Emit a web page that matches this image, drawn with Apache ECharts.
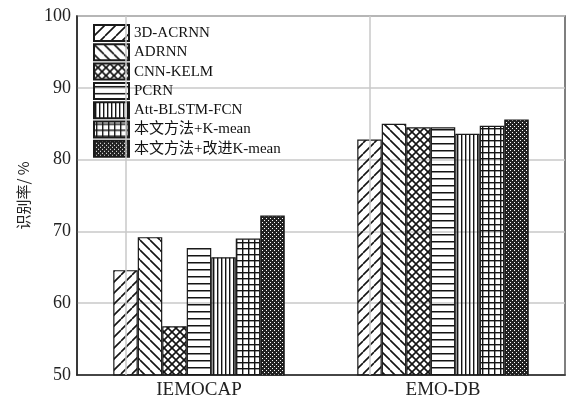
<!DOCTYPE html>
<html>
<head>
<meta charset="utf-8">
<script src="https://cdn.jsdelivr.net/npm/echarts@6/dist/echarts.min.js"></script>
<style>
  html, body { margin: 0; padding: 0; background: #fff; }
  #chart { width: 576px; height: 402px; }
</style>
</head>
<body>
<div id="chart"></div>
<script>
// Datasets and methods
const categories = ['IEMOCAP', 'EMO-DB'];
const methods = ['3D-ACRNN', 'ADRNN', 'CNN-KELM', 'PCRN', 'Att-BLSTM-FCN', '本文方法+K-mean', '本文方法+改进K-mean'];

// Recognition rate (%) per method, ordered as [IEMOCAP, EMO-DB]
const acrnn3d   = [64.6, 82.8];
const adrnn     = [69.2, 85.0];
const cnnKelm   = [56.8, 84.5];
const pcrn      = [67.7, 84.5];
const attBlstm  = [66.4, 83.6];
const ourKmean  = [69.0, 84.7];
const ourImpKm  = [72.2, 85.6];
const seriesValues = [acrnn3d, adrnn, cnnKelm, pcrn, attBlstm, ourKmean, ourImpKm];

// Y axis range
const yMin = 50, yMax = 100, yStep = 10;

// Hatch fills drawn onto small tiles
function tile(w, h, draw) {
  const c = document.createElement('canvas');
  c.width = w; c.height = h;
  const g = c.getContext('2d');
  g.strokeStyle = '#141414';
  g.fillStyle = '#141414';
  draw(g, w, h);
  return { image: c, repeat: 'repeat' };
}
function diag(g, s, up) {
  g.lineWidth = 1.6;
  g.beginPath();
  for (let k = -1; k <= 1; k++) {
    if (up) { g.moveTo(k * s, s); g.lineTo(k * s + s, 0); }
    else { g.moveTo(k * s, 0); g.lineTo(k * s + s, s); }
  }
  g.stroke();
}
const fills = [
  tile(11, 11, (g, w) => diag(g, w, true)),
  tile(10, 10, (g, w) => diag(g, w, false)),
  tile(8, 8, (g, w) => { diag(g, w, true); diag(g, w, false); }),
  tile(8, 7, (g, w, h) => { g.fillRect(0, 3, w, 1.5); }),
  tile(4, 8, (g, w, h) => { g.fillRect(1, 0, 1.4, h); }),
  tile(6, 6, (g, w, h) => { g.fillRect(0, 2, w, 1.4); g.fillRect(2, 0, 1.4, h); }),
  tile(4, 4, (g, w, h) => {
    g.fillStyle = '#222'; g.fillRect(0, 0, w, h);
    g.fillStyle = '#ffffff'; g.fillRect(0, 0, 1, 1); g.fillRect(2, 2, 1, 1);
  })
];

const series = methods.map((name, i) => {
  const s = {
    name: name,
    type: 'bar',
    data: seriesValues[i],
    barWidth: 24.5,
    barGap: '0%',
    itemStyle: { color: fills[i], borderColor: '#1a1a1a', borderWidth: 1.2 },
    emphasis: { disabled: true }
  };
  if (i === 0) {
    // vertical guide lines through the centre of each dataset group
    s.markLine = {
      silent: true,
      symbol: 'none',
      label: { show: false },
      lineStyle: { color: '#c9c9c9', width: 1.5, type: 'solid' },
      data: categories.map(c => ({ xAxis: c }))
    };
  }
  return s;
});

const chart = echarts.init(document.getElementById('chart'), null, { renderer: 'canvas' });
chart.setOption({
  animation: false,
  backgroundColor: '#fff',
  grid: {
    left: 77, right: 11, top: 16, bottom: 27,
    show: true, borderColor: '#555', borderWidth: 1.5, backgroundColor: 'transparent'
  },
  legend: {
    orient: 'vertical',
    left: 93, top: 24,
    padding: 0,
    icon: 'rect',
    itemWidth: 35, itemHeight: 16, itemGap: 1.3,
    selectedMode: false,
    textStyle: { fontFamily: '"Liberation Serif", "Noto Sans CJK SC", serif', fontSize: 15, lineHeight: 15, color: '#111' },
    data: methods
  },
  xAxis: {
    type: 'category',
    data: categories,
    axisLine: { lineStyle: { color: '#222', width: 1.5 } },
    axisTick: { show: false },
    axisLabel: { fontFamily: '"Liberation Serif", serif', fontSize: 19, color: '#222', margin: 6 },
    splitLine: { show: false }
  },
  yAxis: {
    type: 'value',
    min: yMin, max: yMax, interval: yStep,
    name: '识别率/ %',
    nameLocation: 'middle',
    nameRotate: 90,
    nameGap: 46,
    nameTextStyle: { fontFamily: '"Noto Sans CJK SC", sans-serif', fontSize: 15, color: '#222' },
    axisLine: { show: true, lineStyle: { color: '#222', width: 1.5 } },
    axisTick: { show: false },
    axisLabel: { fontFamily: '"Liberation Serif", serif', fontSize: 18, color: '#222', margin: 6 },
    splitLine: { lineStyle: { color: '#c9c9c9', width: 1.5 } }
  },
  series: series
});
</script>
</body>
</html>
